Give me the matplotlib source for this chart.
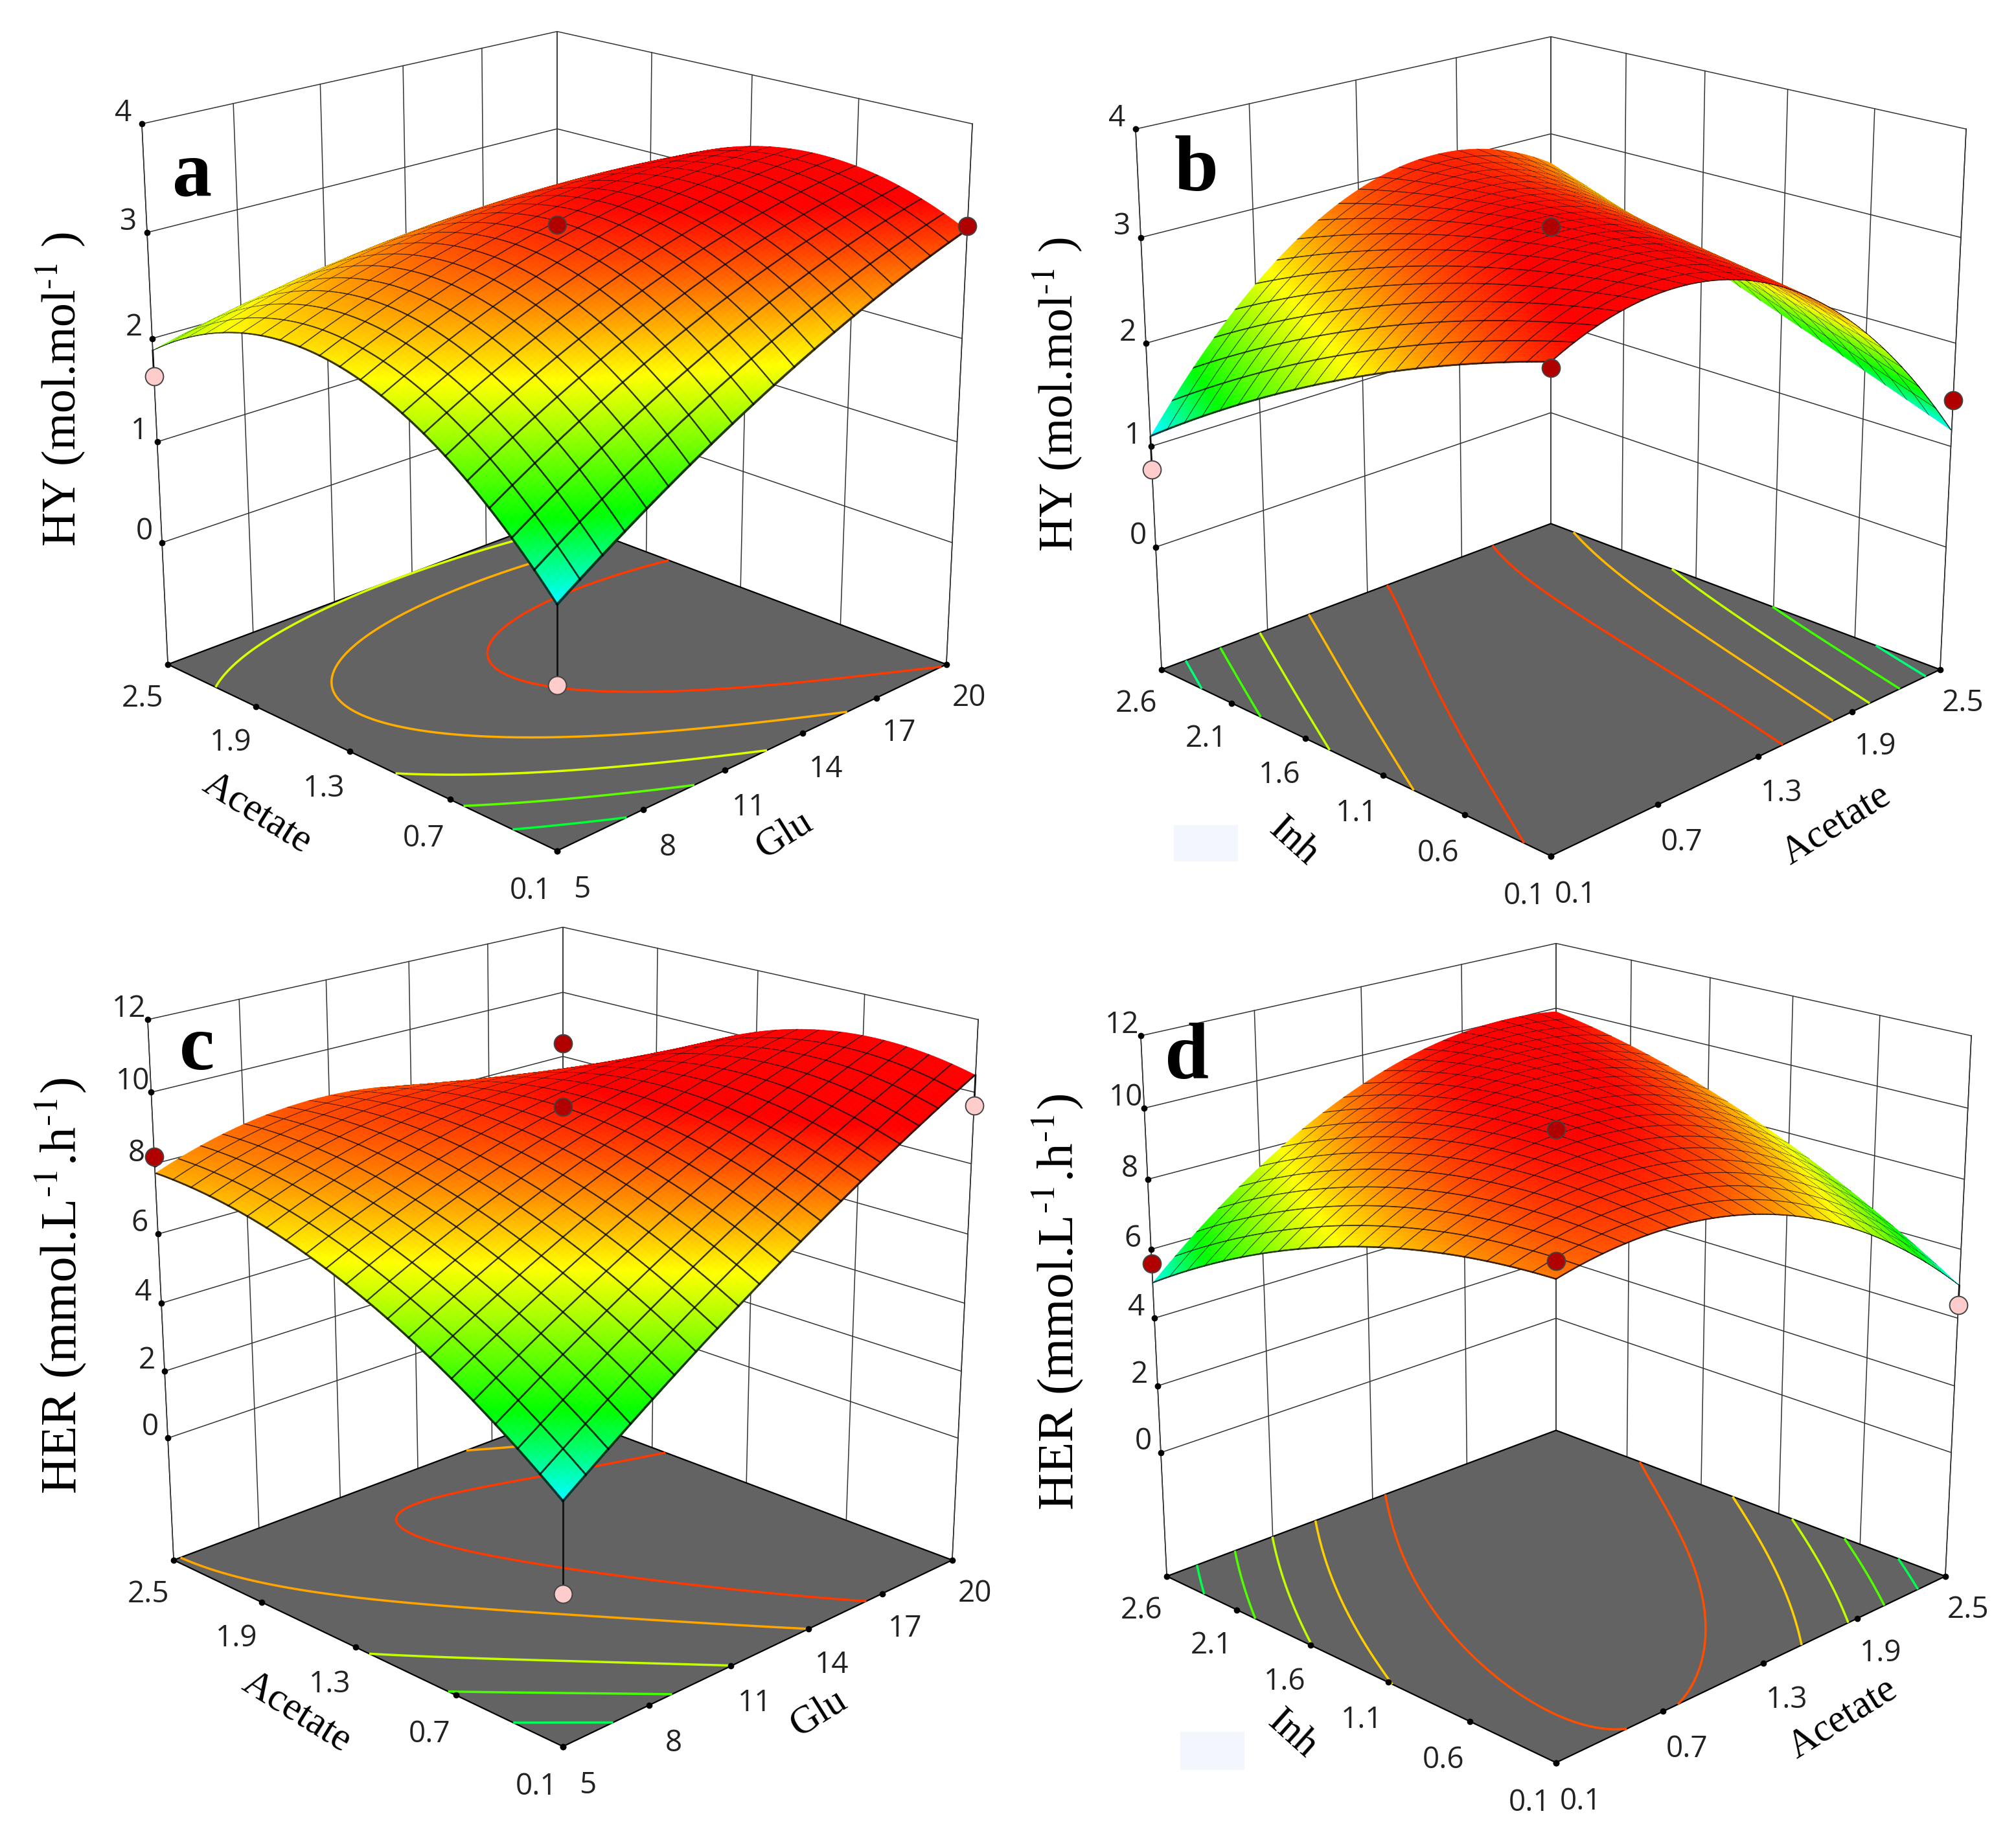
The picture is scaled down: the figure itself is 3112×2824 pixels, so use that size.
import numpy as np
import matplotlib
matplotlib.use('Agg')
import matplotlib.pyplot as plt
from matplotlib.colors import LinearSegmentedColormap, Normalize
from matplotlib.patches import Rectangle
from mpl_toolkits.mplot3d import proj3d

plt.rcParams['font.family'] = ['Open Sans', 'DejaVu Sans']
plt.rcParams['mathtext.fontset'] = 'stix'

W, H = 3112, 2824

# axis ticks
glu_ticks = [5, 8, 11, 14, 17, 20]
acetate_ticks = [0.1, 0.7, 1.3, 1.9, 2.5]
inh_ticks = [0.1, 0.6, 1.1, 1.6, 2.1, 2.6]
hy_ticks = [0, 1, 2, 3, 4]
her_ticks = [0, 2, 4, 6, 8, 10, 12]

# surface heights read at 5x5 nodes (rows along y axis, columns along x axis)
surf_a = [[0.99, 1.62, 2.17, 2.62, 3.00],
          [1.85, 2.45, 2.92, 3.25, 3.40],
          [2.35, 2.78, 3.05, 3.25, 3.30],
          [2.42, 2.68, 2.85, 2.95, 2.80],
          [1.88, 2.05, 2.22, 2.20, 2.00]]
surf_b = [[3.10, 3.30, 3.15, 2.45, 1.15],
          [2.75, 3.22, 3.20, 2.70, 1.50],
          [2.30, 2.95, 3.20, 2.90, 1.93],
          [1.78, 2.55, 3.12, 3.10, 2.30],
          [1.20, 2.05, 3.00, 3.20, 2.60]]
surf_c = [[2.92, 5.00, 7.00, 8.90, 10.50],
          [4.90, 6.90, 8.40, 9.70, 10.70],
          [6.50, 7.70, 9.10, 9.90, 10.30],
          [7.60, 8.30, 9.10, 9.20, 8.50],
          [7.70, 8.50, 8.65, 7.70, 6.00]]
surf_d = [[9.00, 9.35, 8.75, 7.35, 5.00],
          [8.55, 9.70, 9.65, 8.55, 6.75],
          [7.90, 9.30, 10.10, 9.55, 8.15],
          [6.95, 8.45, 10.00, 10.10, 9.35],
          [5.00, 7.40, 9.20, 9.95, 9.80]]

# floor contour levels
levels_a = [1.4, 1.8, 2.2, 2.6, 3.0]
levels_b = [1.4, 1.8, 2.2, 2.6, 3.0]
levels_c = [3.9, 5.1, 6.3, 7.8, 8.9]
levels_d = [5.8, 6.7, 7.5, 8.3, 9.3]

# design points: x, y, response, above the surface or not
points_a = [(5, 0.1, 0.27, False), (5, 2.5, 1.64, False), (20, 0.1, 3.06, True), (12.5, 1.3, 3.07, True), (20, 2.5, 2.06, True)]
points_b = [(0.1, 2.6, 0.77, False), (2.5, 0.1, 1.45, True), (0.1, 0.1, 3.03, True), (1.3, 1.35, 3.1, True)]
points_c = [(5, 0.1, 0.45, False), (5, 2.5, 8.2, True), (20, 0.1, 9.63, False), (12.5, 1.3, 9.6, True), (20, 2.5, 8.4, True)]
points_d = [(0.1, 2.6, 5.58, True), (2.5, 0.1, 4.39, False), (0.1, 0.1, 9.43, True), (1.3, 1.35, 9.4, True)]

cmap = LinearSegmentedColormap.from_list(
    'rsm', [(0, '#00ffff'), (0.23, '#00ff00'), (0.6, '#ffff00'), (1, '#ff0000')])


def node_heights(table, u, v, deg=2):
    # refine the read nodes to the drawing mesh
    nodes = np.linspace(0, 1, 5)
    table = np.array(table)
    rows = np.array([np.polyval(np.polyfit(nodes, r, deg), u) for r in table])
    return np.array([np.polyval(np.polyfit(nodes, c, deg), v) for c in rows.T]).T


CELLS, SUB = 20, 5


def mesh_params(band=0.055):
    vals = []
    step = 1 / CELLS
    for k in range(CELLS):
        a = k * step
        vals.append(a)
        for j in range(SUB):
            vals.append(a + step * (band + (1 - band) * j / SUB))
    vals.append(1.0)
    return np.array(vals)


def tick_text(ax, x, y, z, s):
    # 3d position to flat text
    xp, yp, _ = proj3d.proj_transform(x, y, z, ax.get_proj())
    ax.text2D(xp, yp, s, transform=ax.transData, fontsize=33, ha='center', va='center',
              color='#222222', zorder=8, clip_on=False)


def panel(cx, cy, size, xt, yt, zt, zfloor, table, levels, pts, vmax):
    ax = fig.add_axes([(cx - size / 2) / W, 1 - (cy + size / 2) / H, size / W, size / H],
                      projection='3d', computed_zorder=False)
    ax.set_axis_off()
    ax.patch.set_alpha(0)
    ax.view_init(elev=19.8, azim=-135)
    ax.set_proj_type('persp', focal_length=0.58)
    ax.set_box_aspect((1, 1, 1.01))
    x0, x1 = xt[0], xt[-1]
    y0, y1 = yt[0], yt[-1]
    z1 = zt[-1]
    ax.set_xlim(x0, x1)
    ax.set_ylim(y0, y1)
    ax.set_zlim(zfloor, z1)

    # walls
    wall = dict(color='#333333', lw=1.1, zorder=1)
    for xv in xt:
        ax.plot([xv, xv], [y1, y1], [zfloor, z1], **wall)
    for yv in yt:
        ax.plot([x1, x1], [yv, yv], [zfloor, z1], **wall)
    for zv in zt:
        ax.plot([x0, x1, x1], [y1, y1, y0], [zv, zv, zv], **wall)
    ax.plot([x0, x0], [y1, y1], [zfloor, z1], **wall)
    ax.plot([x1, x1], [y0, y0], [zfloor, z1], **wall)

    # floor
    ax.plot_surface(np.array([[x0, x1], [x0, x1]]), np.array([[y0, y0], [y1, y1]]),
                    np.full((2, 2), zfloor), color='#636363', shade=False, zorder=2,
                    linewidth=0)
    ax.plot([x0, x1, x1, x0, x0], [y0, y0, y1, y1, y0], [zfloor] * 5, color='k', lw=1.6, zorder=2.2)

    vmin = np.min(table)
    norm = Normalize(vmin, vmax)

    # floor contours
    fine = np.linspace(0, 1, 121)
    zfine = node_heights(table, fine, fine)
    ax.contour(x0 + fine * (x1 - x0), y0 + fine * (y1 - y0), zfine, levels=levels,
               cmap=cmap, norm=norm, zdir='z', offset=zfloor, linewidths=2.5, zorder=3)

    # tick dots and labels
    ax.plot(xt, [y0] * len(xt), [zfloor] * len(xt), 'o', color='k', ms=6, zorder=3.5)
    ax.plot([x0] * len(yt), yt, [zfloor] * len(yt), 'o', color='k', ms=6, zorder=3.5)
    ax.plot([x0] * len(zt), [y1] * len(zt), zt, 'o', color='k', ms=6, zorder=3.5)
    dx = (x1 - x0) * 0.06
    dy = (y1 - y0) * 0.055
    drop = (z1 - zfloor) * 0.049
    for xv in xt:
        tick_text(ax, xv, y0 - dy, zfloor - drop, '%g' % xv)
    for yv in yt:
        tick_text(ax, x0 - dx, yv, zfloor - drop, '%g' % yv)
    for zv in zt:
        tick_text(ax, x0 - (x1 - x0) * 0.012, y1 + (y1 - y0) * 0.035, zv + (z1 - zfloor) * 0.014, '%g' % zv)

    # response surface
    u = mesh_params()
    Zs = node_heights(table, u, u)
    Xs, Ys = np.meshgrid(x0 + u * (x1 - x0), y0 + u * (y1 - y0))
    zc = (Zs[:-1, :-1] + Zs[1:, :-1] + Zs[:-1, 1:] + Zs[1:, 1:]) / 4
    fc = cmap(norm(zc))
    fc[::SUB + 1, :, :3] *= 0.22
    fc[:, ::SUB + 1, :3] *= 0.22
    ax.plot_surface(Xs, Ys, Zs, facecolors=fc, rstride=1, cstride=1, shade=False,
                    linewidth=0.5, antialiased=True, zorder=5)

    # design points
    for px_, py_, pz_, above in pts:
        s = node_heights(table, np.array([(px_ - x0) / (x1 - x0)]), np.array([(py_ - y0) / (y1 - y0)]))[0, 0]
        behind = px_ == x1 and py_ == y1
        if not above:
            ax.plot([px_, px_], [py_, py_], [s, pz_], color='#111111', lw=2, zorder=6)
        ax.plot([px_], [py_], [pz_], 'o', ms=20, mfc='#b00000' if above else '#ffcccc',
                mec='#444444', mew=1.4, zorder=4 if behind else 7)
    return ax


def label(x, y, s, **kw):
    fig.text(x / W, 1 - y / H, s, ha='center', va='center', family=['Liberation Serif', 'DejaVu Serif'], **kw)


fig = plt.figure(figsize=(W / 100, H / 100), dpi=100, facecolor='white')

# pale patches beside the Inh labels
for rx, ry, rw, rh in [(1812, 1274, 99, 56), (1822, 2674, 99, 59)]:
    fig.add_artist(Rectangle((rx / W, 1 - (ry + rh) / H), rw / W, rh / H, transform=fig.transFigure,
                             facecolor='#f3f7fd', edgecolor='none'))

S = 1480
panel(840, 642, S, glu_ticks, acetate_ticks, hy_ticks, -1.24, surf_a, levels_a, points_a, 3.2)
panel(2374, 650, S, acetate_ticks, inh_ticks, hy_ticks, -1.25, surf_b, levels_b, points_b, 3.2)
panel(849, 2025, S, glu_ticks, acetate_ticks, her_ticks, -3.73, surf_c, levels_c, points_c, 9.5)
panel(2382, 2050, S, acetate_ticks, inh_ticks, her_ticks, -3.8, surf_d, levels_d, points_d, 9.9)

# panel letters
for xy, s in [((297, 272), 'a'), ((1846, 264), 'b'), ((304, 1622), 'c'), ((1832, 1634), 'd')]:
    label(xy[0], xy[1], s, fontsize=88, fontweight='bold')

# response labels
hy = r'HY (mol.mol$^{\text{-}1}$ )'
her = r'HER (mmol.L$^{\text{-}1}$.h$^{\text{-}1}$)'
label(93, 601, hy, fontsize=53, rotation=90)
label(1632, 609, hy, fontsize=53, rotation=90)
label(93, 1985, her, fontsize=57, rotation=90)
label(1632, 2010, her, fontsize=57, rotation=90)

# factor labels
label(397, 1256, 'Acetate', fontsize=44, rotation=-32)
label(1211, 1290, 'Glu', fontsize=44, rotation=32)
label(1997, 1300, 'Inh', fontsize=44, rotation=-42)
label(2835, 1274, 'Acetate', fontsize=44, rotation=32)
label(458, 2644, 'Acetate', fontsize=44, rotation=-32)
label(1264, 2646, 'Glu', fontsize=44, rotation=32)
label(1995, 2678, 'Inh', fontsize=44, rotation=-42)
label(2845, 2654, 'Acetate', fontsize=44, rotation=32)

fig.savefig('out.png', dpi=100, facecolor='white')
